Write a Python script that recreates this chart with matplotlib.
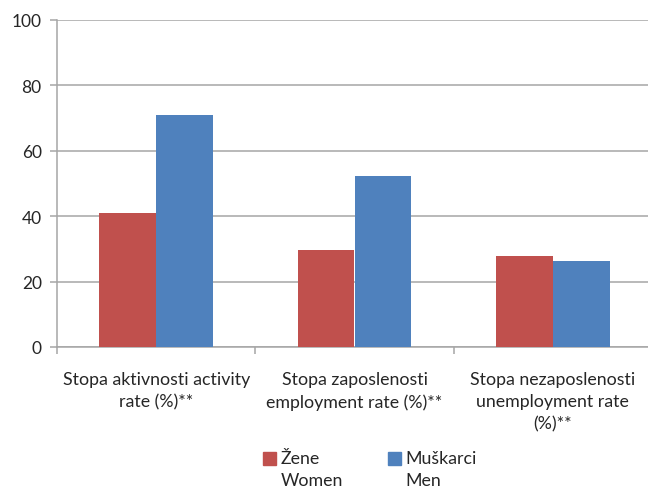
import matplotlib
matplotlib.use("Agg")
import matplotlib.pyplot as plt
import numpy as np
from matplotlib.patches import Patch

categories = ["Stopa aktivnosti activity\nrate (%)**",
              "Stopa zaposlenosti\nemployment rate (%)**",
              "Stopa nezaposlenosti\nunemployment rate\n(%)**"]
women = [41.1, 29.8, 27.9]
men = [70.9, 52.4, 26.4]
series_labels = ["Žene\nWomen", "Muškarci\nMen"]
yticks = [0, 20, 40, 60, 80, 100]

plt.rcParams['font.family'] = ['Lato', 'DejaVu Sans']
red = "#C0504D"
blue = "#4F81BD"
grid_c = "#A6A6A6"
txt_c = "#262626"

fig = plt.figure(figsize=(6.48, 4.89), dpi=100)
ax = fig.add_axes([57/648, 1-348/489, 595/648, 327/489])

x = np.arange(len(categories))
w = 0.287
ax.bar(x - w/2, women, w, color=red, zorder=3)
ax.bar(x + w/2, men, w, color=blue, zorder=3)

ax.set_xlim(-0.5, 2.5)
ax.set_ylim(0, 100)
ax.set_yticks(yticks)
ax.set_yticklabels([str(v) for v in yticks], fontsize=12.5, color=txt_c)
ax.yaxis.grid(True, color=grid_c, linewidth=1.1, zorder=0)
ax.set_axisbelow(True)
for s in ["top", "right"]:
    ax.spines[s].set_visible(False)
for s in ["left", "bottom"]:
    ax.spines[s].set_color(grid_c)
    ax.spines[s].set_linewidth(1.1)
ax.tick_params(axis='y', length=5, color=grid_c, width=1.1, pad=6)

ax.set_xticks(x)
ax.set_xticklabels(categories, fontsize=12.8, color=txt_c, linespacing=1.5, va='top')
ax.tick_params(axis='x', length=0, pad=17)
ax.set_xticks([-0.5, 0.5, 1.5, 2.5], minor=True)
ax.tick_params(axis='x', which='minor', length=5, color=grid_c, width=1.1)

handles = [Patch(color=red), Patch(color=blue)]
leg = fig.legend(handles, series_labels, loc='center', bbox_to_anchor=(370/648, 1-470/489),
                 ncol=2, frameon=False, fontsize=12.8, handlelength=0.75, handleheight=0.75,
                 handletextpad=0.25, columnspacing=2.5)
for t in leg.get_texts():
    t.set_linespacing(1.5)
    t.set_color(txt_c)
for h in leg.legend_handles:
    h.set_y(h.get_y() + 8)

fig.savefig("out.png", dpi=100)
